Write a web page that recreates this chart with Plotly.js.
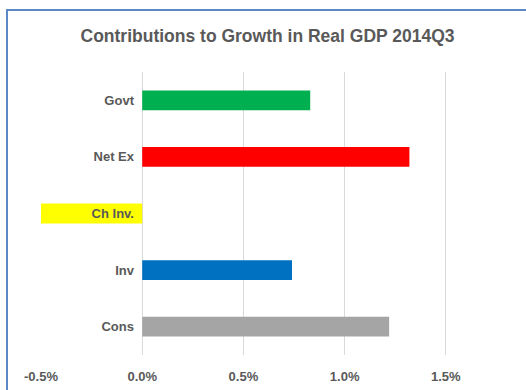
<!DOCTYPE html>
<html>
<head>
<meta charset="utf-8">
<script src="https://cdn.plot.ly/plotly-3.0.1.min.js"></script>
<style>
html,body{margin:0;padding:0;background:#fff;}
#frame{position:absolute;left:6px;top:9px;width:530px;height:400px;border-left:2px solid #5A8AC6;border-top:2px solid #5A8AC6;}
#chart{position:absolute;left:0;top:0;width:526px;height:390px;}
</style>
</head>
<body>
<div id="frame"></div>
<div id="chart"></div>
<script>
const categories = ['Cons', 'Inv', 'Ch Inv.', 'Net Ex', 'Govt'];
const contributions = [1.22, 0.74, -0.57, 1.32, 0.83];
const barColors = ['#A5A5A5', '#0070C0', '#FFFF00', '#FF0000', '#00B050'];
const tickVals = [-0.5, 0, 0.5, 1.0, 1.5];
const tickText = ['-0.5%', '0.0%', '0.5%', '1.0%', '1.5%'];

const fontFam = '"Liberation Sans Narrow", "Arial Narrow", "Liberation Sans", Arial, sans-serif';

const trace = {
  type: 'bar',
  orientation: 'h',
  y: categories,
  x: contributions,
  marker: {color: barColors, line: {width: 0}},
  hoverinfo: 'skip'
};

const layout = {
  width: 526,
  height: 390,
  margin: {l: 41, r: 0, t: 72, b: 35},
  paper_bgcolor: 'rgba(0,0,0,0)',
  plot_bgcolor: 'rgba(0,0,0,0)',
  showlegend: false,
  bargap: 0.65,
  title: {
    text: 'Contributions to Growth in Real GDP 2014Q3',
    font: {family: fontFam, size: 17.5, color: '#595959', weight: 'bold'},
    x: 0.5086, xref: 'container', xanchor: 'center',
    y: 0.908, yref: 'container', yanchor: 'middle'
  },
  xaxis: {
    range: [-0.5, 1.896],
    tickvals: tickVals,
    ticktext: tickText,
    showgrid: true,
    gridcolor: '#D9D9D9',
    gridwidth: 1,
    zeroline: true,
    zerolinecolor: '#D9D9D9',
    zerolinewidth: 1,
    showline: false,
    ticks: '',
    ticklabelstandoff: 12,
    tickfont: {family: fontFam, size: 13, color: '#595959', weight: 'bold'},
    fixedrange: true
  },
  yaxis: {
    type: 'category',
    categoryorder: 'array',
    categoryarray: categories,
    anchor: 'free',
    position: 0.2103,
    showgrid: false,
    zeroline: false,
    showline: false,
    ticks: '',
    ticklabelstandoff: 9,
    tickfont: {family: fontFam, size: 13, color: '#595959', weight: 'bold'},
    fixedrange: true
  }
};

Plotly.newPlot('chart', [trace], layout, {displayModeBar: false, staticPlot: true});
</script>
</body>
</html>
